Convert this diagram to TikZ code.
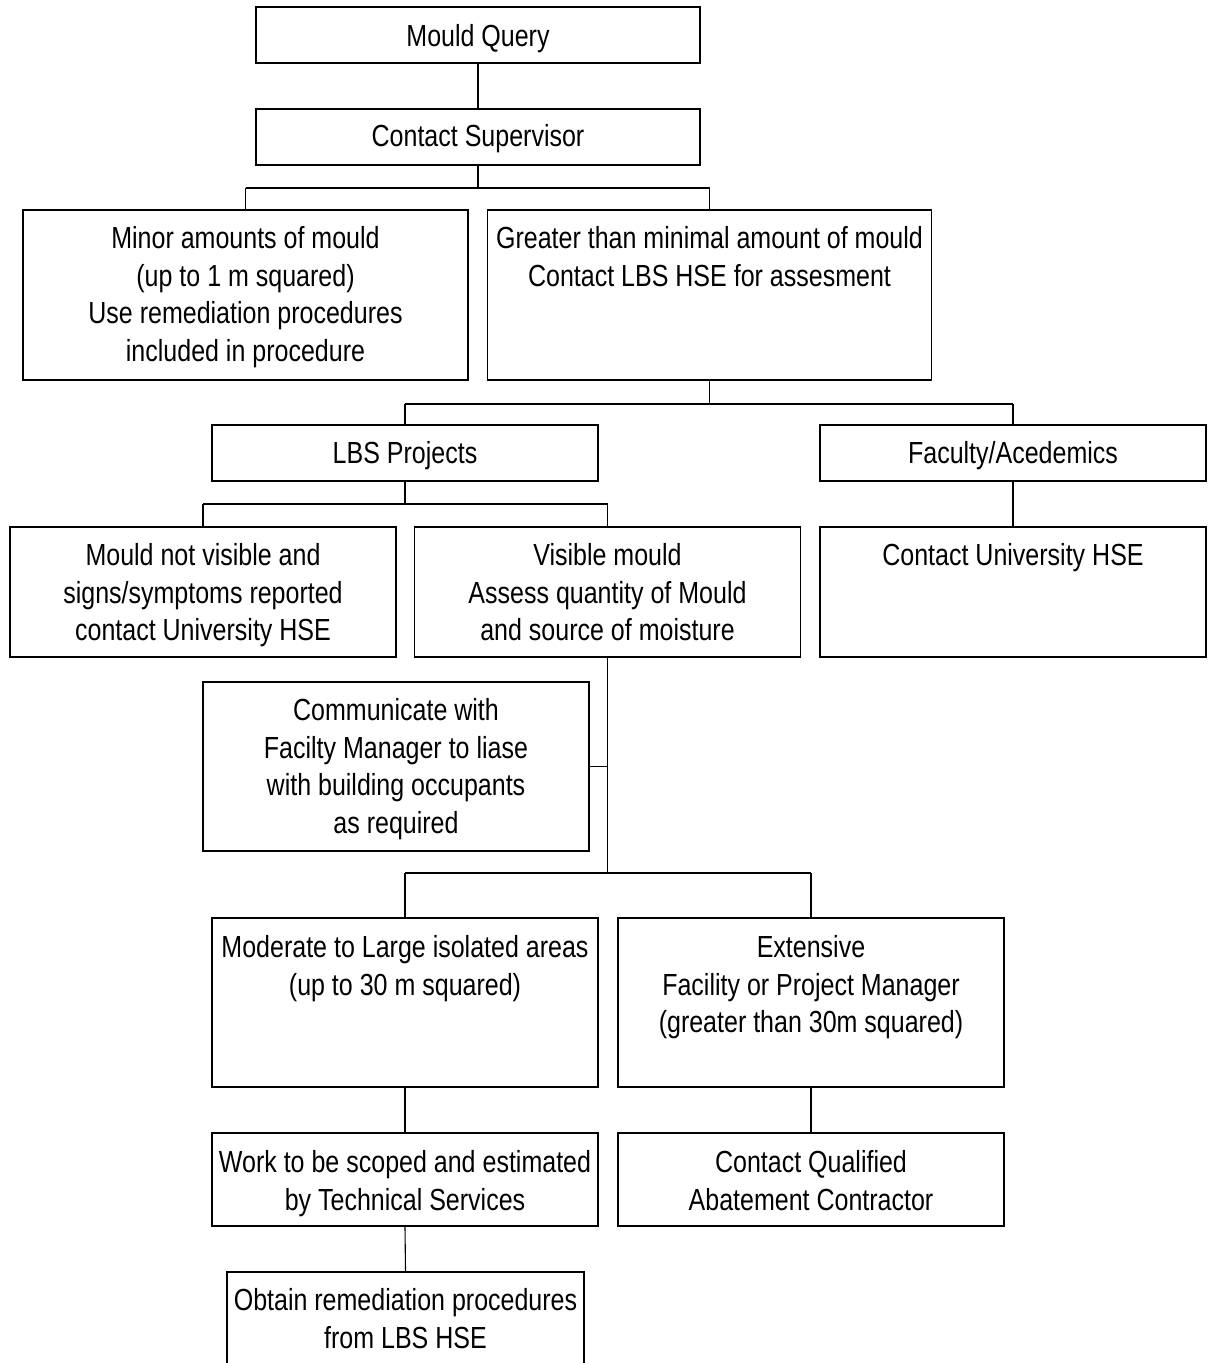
\documentclass[tikz,border=0pt]{standalone}
\usepackage{fontspec}
\setmainfont[FakeStretch=0.82]{Liberation Sans}
\begin{document}
\begin{tikzpicture}[x=1pt,y=-1pt,
  box/.style={draw, line width=1.7pt, rectangle, inner sep=0pt},
  txt/.style={anchor=north, align=center, inner sep=0pt, font=\fontsize{30.5}{37.7}\selectfont},
  conn/.style={line width=1.1pt},
  bus/.style={line width=2pt}]
\useasboundingbox (0,0) rectangle (1208,1363);
\fill[white] (0,0) rectangle (1208,1363);
\clip (0,0) rectangle (1208,1363);
% boxes
\node[box, minimum width=444pt, minimum height=56pt] (mq) at (478,35) {};
\node[box, minimum width=444pt, minimum height=56pt] (cs) at (478,137) {};
\node[box, minimum width=445pt, minimum height=170pt] (minor) at (245.5,295) {};
\node[box, minimum width=444pt, minimum height=170pt] (greater) at (709.5,295) {};
\node[box, minimum width=386pt, minimum height=56pt] (lbs) at (405,453) {};
\node[box, minimum width=386pt, minimum height=56pt] (fac) at (1013,453) {};
\node[box, minimum width=386pt, minimum height=130pt] (notvis) at (203,592) {};
\node[box, minimum width=386pt, minimum height=130pt] (vis) at (607.5,592) {};
\node[box, minimum width=386pt, minimum height=130pt] (cuh) at (1013,592) {};
\node[box, minimum width=386pt, minimum height=169pt] (comm) at (396,766.5) {};
\node[box, minimum width=386pt, minimum height=169pt] (mod) at (405,1002.5) {};
\node[box, minimum width=386pt, minimum height=169pt] (ext) at (811,1002.5) {};
\node[box, minimum width=386pt, minimum height=93pt] (work) at (405,1179.5) {};
\node[box, minimum width=386pt, minimum height=93pt] (cqa) at (811,1179.5) {};
\node[box, minimum width=357pt, minimum height=170pt] (obt) at (405.5,1357) {};
% texts
\node[txt] (mqt) at ([yshift=-18pt]mq.north) {Mould Query};
\node[txt] (cst) at ([yshift=-16pt]cs.north) {Contact Supervisor};
\node[txt] (minort) at ([yshift=-17pt]minor.north) {Minor amounts of mould\\(up to 1 m squared)\\Use remediation procedures\\included in procedure};
\node[txt] (greatert) at ([yshift=-17pt]greater.north) {Greater than minimal amount of mould\\Contact LBS HSE for assesment};
\node[txt] (lbst) at ([yshift=-17pt]lbs.north) {LBS Projects};
\node[txt] (fact) at ([yshift=-17pt]fac.north) {Faculty/Acedemics};
\node[txt] (notvist) at ([yshift=-17pt]notvis.north) {Mould not visible and\\signs/symptoms reported\\contact University HSE};
\node[txt] (vist) at ([yshift=-17pt]vis.north) {Visible mould\\Assess quantity of Mould\\and source of moisture};
\node[txt] (cuht) at ([yshift=-17pt]cuh.north) {Contact University HSE};
\node[txt] (commt) at ([yshift=-17pt]comm.north) {Communicate with\\Facilty Manager to liase\\with building occupants\\as required};
\node[txt] (modt) at ([yshift=-18pt]mod.north) {Moderate to Large isolated areas\\(up to 30 m squared)};
\node[txt] (extt) at ([yshift=-18pt]ext.north) {Extensive\\Facility or Project Manager\\(greater than 30m squared)};
\node[txt] (workt) at ([yshift=-18pt]work.north) {Work to be scoped and estimated\\by Technical Services};
\node[txt] (cqat) at ([yshift=-18pt]cqa.north) {Contact Qualified\\Abatement Contractor};
\node[txt] (obtt) at ([yshift=-17pt]obt.north) {Obtain remediation procedures\\from LBS HSE};
% connectors
\coordinate (b1) at (478,187.5);
\coordinate (b2) at (709.5,404);
\coordinate (b3) at (405,504);
\coordinate (b4) at (607.5,873);
\draw[conn] (mq.south) -- (cs.north);
\draw[conn] (cs.south) -- (b1);
\draw[bus] (minor.north |- b1) -- (greater.north |- b1);
\draw[conn] (minor.north |- b1) -- (minor.north);
\draw[conn] (greater.north |- b1) -- (greater.north);
\draw[conn] (greater.south) -- (b2);
\draw[bus] (lbs.north |- b2) -- (fac.north |- b2);
\draw[conn] (lbs.north |- b2) -- (lbs.north);
\draw[conn] (fac.north |- b2) -- (fac.north);
\draw[conn] (lbs.south) -- (b3);
\draw[bus] (notvis.north |- b3) -- (vis.north |- b3);
\draw[conn] (notvis.north |- b3) -- (notvis.north);
\draw[conn] (vis.north |- b3) -- (vis.north);
\draw[conn] (fac.south) -- (cuh.north);
\draw[conn] (vis.south) -- (b4);
\draw[conn] (comm.east) -- (vis.south |- comm.east);
\draw[bus] (mod.north |- b4) -- (ext.north |- b4);
\draw[conn] (mod.north |- b4) -- (mod.north);
\draw[conn] (ext.north |- b4) -- (ext.north);
\draw[conn] (mod.south) -- (work.north);
\draw[conn] (ext.south) -- (cqa.north);
\draw[conn] (work.south) -- (obt.north);
\end{tikzpicture}
\end{document}
